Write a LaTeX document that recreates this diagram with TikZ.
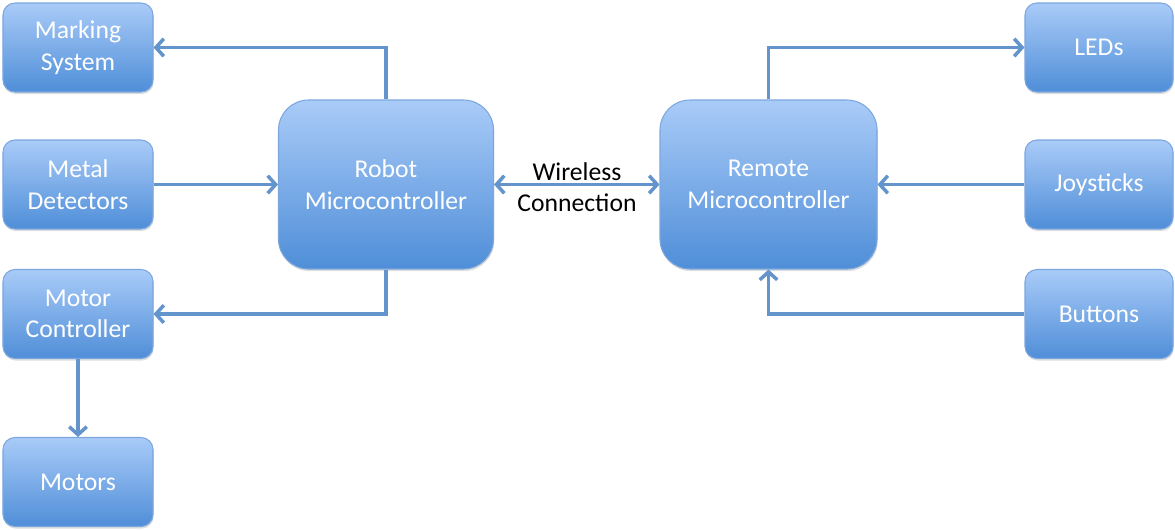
\documentclass[tikz,border=0pt]{standalone}
\usepackage{fontspec}
\setmainfont{Carlito}
\usepackage{xcolor}
\usetikzlibrary{arrows.meta,shadows}
\definecolor{boxtop}{HTML}{A9CBF8}
\definecolor{boxbot}{HTML}{4F8ED8}
\definecolor{boxline}{HTML}{7BA7DE}
\definecolor{wire}{HTML}{6494CC}

\begin{document}
\begin{tikzpicture}[
  blk/.style={draw=boxline, line width=0.6pt, top color=boxtop, bottom color=boxbot,
    rounded corners=0.24cm, minimum width=3cm, minimum height=1.78cm,
    text=white, align=center, font=\fontsize{14.6}{18}\selectfont,
    drop shadow={opacity=0.25, shadow xshift=0.4pt, shadow yshift=-1.2pt}},
  bigblk/.style={blk, rounded corners=0.6cm, minimum width=4.3cm, minimum height=3.38cm},
  link/.style={draw=wire, line width=2pt, -{Straight Barb[length=4.5pt,width=10pt]}}
]
\useasboundingbox (0,0) rectangle (23.5,-10.58);

\node[blk] (marking) at (1.56,-0.95) {Marking\\System};
\node[blk] (metal) at (1.56,-3.69) {Metal\\Detectors};
\node[blk] (motorctl) at (1.56,-6.28) {Motor\\Controller};
\node[blk] (motors) at (1.56,-9.64) {Motors};

\node[bigblk] (robot) at (7.72,-3.69) {Robot\\Microcontroller};
\node[bigblk, minimum width=4.34cm] (remote) at (15.37,-3.69) {Remote\\Microcontroller};

\node[blk, minimum width=2.96cm] (leds) at (21.98,-0.95) {LEDs};
\node[blk, minimum width=2.96cm] (joy) at (21.98,-3.69) {Joysticks};
\node[blk, minimum width=2.96cm] (buttons) at (21.98,-6.28) {Buttons};

\node[align=center, font=\fontsize{14.6}{18}\selectfont] (wireless) at (11.54,-3.74) {Wireless\\Connection};

\draw[link] (robot.north) |- (marking.east);
\draw[link] (metal.east) -- (robot.west);
\draw[link] (robot.south) |- (motorctl.east);
\draw[link] (motorctl.south) -- (motors.north);
\draw[link, {Straight Barb[length=4.5pt,width=10pt]}-{Straight Barb[length=4.5pt,width=10pt]}] (robot.east) -- (remote.west);

\draw[link] (remote.north) |- (leds.west);
\draw[link] (joy.west) -- (remote.east);
\draw[link] (buttons.west) -| (remote.south);
\end{tikzpicture}
\end{document}
